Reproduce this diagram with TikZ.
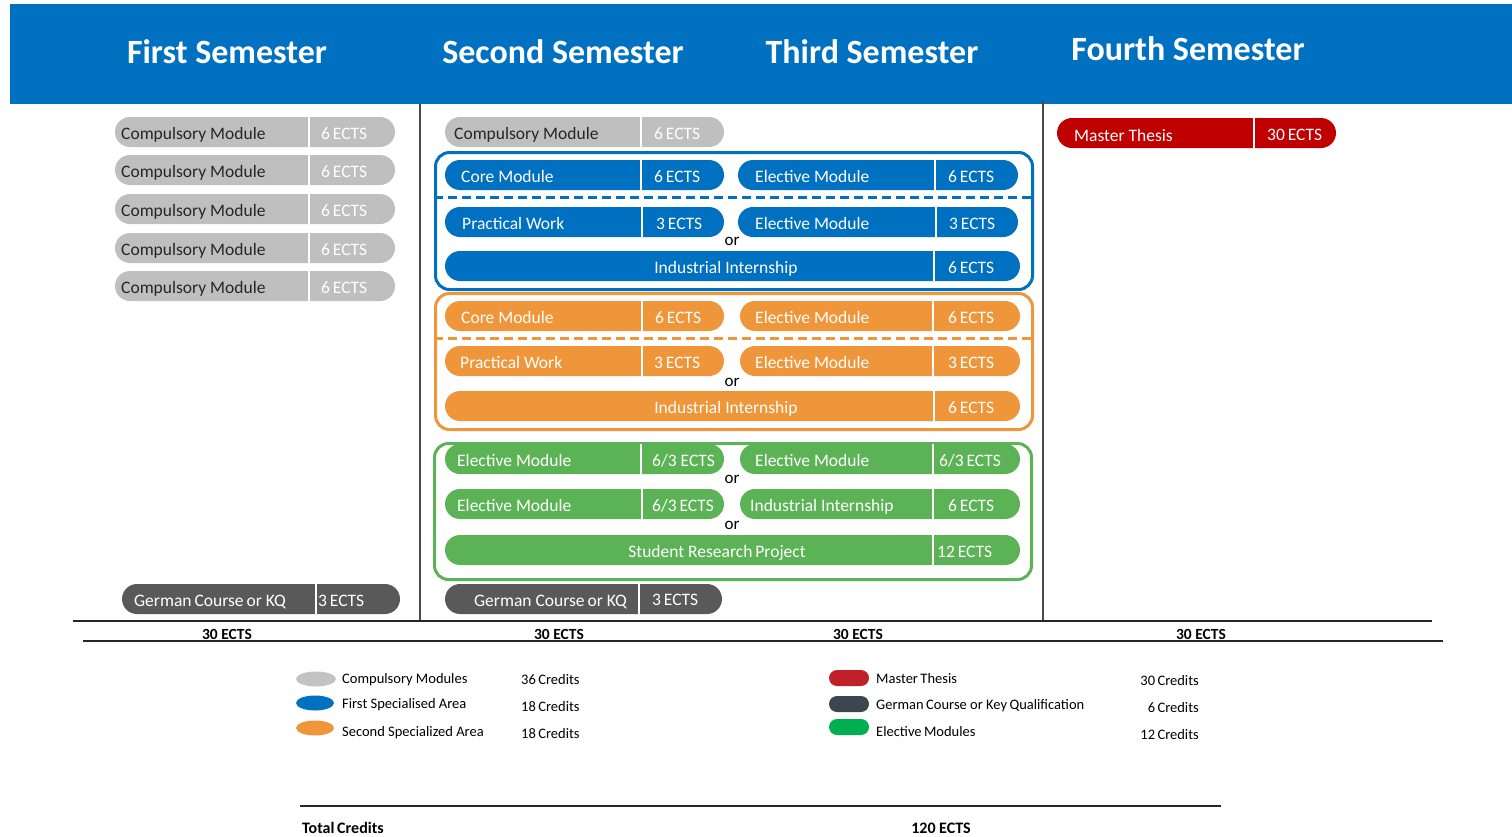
\documentclass[tikz,border=0pt]{standalone}
\usepackage{fontspec}
\setmainfont{Carlito}
\usetikzlibrary{shapes.misc,shapes.geometric}
\definecolor{hdrblue}{HTML}{0070C0}
\definecolor{pblue}{HTML}{0070C0}
\definecolor{porange}{HTML}{F0963A}
\definecolor{pgreen}{HTML}{5CB356}
\definecolor{pgray}{HTML}{BFBFBF}
\definecolor{pdark}{HTML}{595959}
\definecolor{pred}{HTML}{C00000}
\definecolor{txtdark}{HTML}{262626}
\definecolor{lred}{HTML}{C0202A}
\definecolor{ldark}{HTML}{3C4650}
\definecolor{lgreen}{HTML}{00B050}
\definecolor{lgray}{HTML}{C3C3C3}
\definecolor{lineg}{HTML}{4A4A4A}
\tikzset{
  pillbox/.style={rounded rectangle,minimum height=30pt,inner sep=0pt,outer sep=0pt},
  divline/.style={white,line width=1.8pt},
  ptxt/.style={font=\fontsize{17.5}{20}\selectfont,text=white,inner sep=0pt,anchor=base west},
  ctxt/.style={ptxt,anchor=base},
  hdr/.style={font=\fontsize{34}{38}\selectfont\bfseries,text=white,inner sep=0pt,anchor=base},
  ortxt/.style={font=\fontsize{17}{19}\selectfont,text=black,inner sep=0pt,anchor=base},
  sepline/.style={lineg,line width=1.3pt},
  hline/.style={black!85,line width=1.2pt},
  ects/.style={font=\fontsize{15.5}{18}\selectfont\bfseries,text=black,inner sep=0pt,anchor=base},
  areabox/.style={line width=3pt,rounded corners=14pt},
  areadash/.style={line width=3pt,dash pattern=on 9pt off 5pt},
  legt/.style={font=\fontsize{14.5}{17}\selectfont,text=black,inner sep=0pt,anchor=base west},
  legc/.style={legt},
  legcr/.style={legt,anchor=base east},
  tot/.style={font=\fontsize{16}{19}\selectfont\bfseries,text=black,inner sep=0pt},
}
\newcommand\modpill[6]{%
  \node[pillbox,#6,minimum width={#3-#2}] (#1) at ({(#2+#3)/2},#4) {};
  \draw[divline] (#5,{#4-15}) -- (#5,{#4+15});}
\begin{document}
\begin{tikzpicture}[x=1pt,y=-1pt]
\useasboundingbox (0,0) rectangle (1512,836);
% header
\node[fill=hdrblue,minimum width=1502pt,minimum height=100pt,anchor=north west,inner sep=0pt] (header) at (10,4) {};
\node[hdr] (h1) at (227,63) {First Semester};
\node[hdr] (h2) at (563,63) {Second Semester};
\node[hdr] (h3) at (872,63) {Third Semester};
\node[hdr] (h4) at (1188,60) {Fourth Semester};
% separators
\coordinate (v1t) at (420,104); \coordinate (v1b) at (420,621);
\coordinate (v2t) at (1043,100); \coordinate (v2b) at (1043,621);
\draw[sepline] (v1t) -- (v1b);
\draw[sepline] (v2t) -- (v2b);
\coordinate (l1a) at (73,621); \coordinate (l1b) at (1432,621);
\coordinate (l2a) at (83,641); \coordinate (l2b) at (1443,641);
\draw[hline] (l1a) -- (l1b);
\draw[hline] (l2a) -- (l2b);
\node[ects] (e1) at (227,639) {30 ECTS};
\node[ects] (e2) at (559,639) {30 ECTS};
\node[ects] (e3) at (858,639) {30 ECTS};
\node[ects] (e4) at (1201,639) {30 ECTS};
% first semester compulsory
\foreach \i/\y in {1/132,2/170,3/209,4/248,5/286}{
  \modpill{c\i}{115}{395}{\y}{309}{fill=pgray}
  \node[ptxt,text=txtdark] (c\i-l) at (121,\y+7) {Compulsory Module};
  \node[ptxt] (c\i-e) at (321,\y+7) {6\,ECTS};
}
% second semester compulsory
\modpill{s2c}{445}{724}{132}{641}{fill=pgray}
\node[ptxt,text=txtdark] (s2c-l) at (454,139) {Compulsory Module};
\node[ptxt] (s2c-e) at (654,139) {6\,ECTS};
% blue area
\node[areabox,draw=pblue,minimum width=597pt,minimum height=137pt,inner sep=0pt,anchor=north west] (bluebox) at (434,151) {};
\draw[areadash,pblue] (bluebox.west |- 0,197) -- (bluebox.east |- 0,197);
\modpill{b1a}{445}{724}{175}{641}{fill=pblue}
\node[ptxt] (b1a-l) at (461,182) {Core Module};
\node[ptxt] (b1a-e) at (654,182) {6\,ECTS};
\modpill{b1b}{738}{1018}{175}{935}{fill=pblue}
\node[ptxt] (b1b-l) at (755,182) {Elective Module};
\node[ptxt] (b1b-e) at (948,182) {6\,ECTS};
\modpill{b2a}{445}{724}{222}{642}{fill=pblue}
\node[ptxt] (b2a-l) at (462,229) {Practical Work};
\node[ptxt] (b2a-e) at (656,229) {3\,ECTS};
\modpill{b2b}{738}{1018}{222}{936}{fill=pblue}
\node[ptxt] (b2b-l) at (755,229) {Elective Module};
\node[ptxt] (b2b-e) at (949,229) {3\,ECTS};
\node[ortxt] (bor) at (732,245) {or};
\modpill{b3}{445}{1020}{266}{934}{fill=pblue}
\node[ctxt] (b3-l) at (726,273) {Industrial Internship};
\node[ptxt] (b3-e) at (948,273) {6\,ECTS};
% orange area
\node[areabox,draw=porange,minimum width=597pt,minimum height=136pt,inner sep=0pt,anchor=north west] (orangebox) at (434,292) {};
\draw[areadash,porange] (orangebox.west |- 0,338) -- (orangebox.east |- 0,338);
\modpill{o1a}{445}{724}{316}{642}{fill=porange}
\node[ptxt] (o1a-l) at (461,323) {Core Module};
\node[ptxt] (o1a-e) at (655,323) {6\,ECTS};
\modpill{o1b}{740}{1020}{316}{933}{fill=porange}
\node[ptxt] (o1b-l) at (755,323) {Elective Module};
\node[ptxt] (o1b-e) at (948,323) {6\,ECTS};
\modpill{o2a}{445}{724}{361}{642}{fill=porange}
\node[ptxt] (o2a-l) at (460,368) {Practical Work};
\node[ptxt] (o2a-e) at (654,368) {3\,ECTS};
\modpill{o2b}{740}{1020}{361}{933}{fill=porange}
\node[ptxt] (o2b-l) at (755,368) {Elective Module};
\node[ptxt] (o2b-e) at (948,368) {3\,ECTS};
\node[ortxt] (oor) at (732,386) {or};
\modpill{o3}{445}{1020}{406}{934}{fill=porange}
\node[ctxt] (o3-l) at (726,413) {Industrial Internship};
\node[ptxt] (o3-e) at (948,413) {6\,ECTS};
% green area
\node[areabox,draw=pgreen,minimum width=597pt,minimum height=136pt,inner sep=0pt,anchor=north west] (greenbox) at (433,442) {};
\modpill{g1a}{445}{724}{459}{641}{fill=pgreen}
\node[ptxt] (g1a-l) at (457,466) {Elective Module};
\node[ptxt] (g1a-e) at (652,466) {6/3 ECTS};
\modpill{g1b}{740}{1020}{459}{933}{fill=pgreen}
\node[ptxt] (g1b-l) at (755,466) {Elective Module};
\node[ptxt] (g1b-e) at (939,466) {6/3\,ECTS};
\node[ortxt] (gor1) at (732,483) {or};
\modpill{g2a}{445}{724}{504}{642}{fill=pgreen}
\node[ptxt] (g2a-l) at (457,511) {Elective Module};
\node[ptxt] (g2a-e) at (652,511) {6/3\,ECTS};
\modpill{g2b}{740}{1020}{504}{933}{fill=pgreen}
\node[ptxt] (g2b-l) at (750,511) {Industrial Internship};
\node[ptxt] (g2b-e) at (948,511) {6\,ECTS};
\node[ortxt] (gor2) at (732,529) {or};
\modpill{g3}{445}{1020}{550}{933}{fill=pgreen}
\node[ctxt] (g3-l) at (717,557) {Student Research\,Project};
\node[ptxt] (g3-e) at (937,557) {12\,ECTS};
% german course
\modpill{d1}{122}{400}{599}{316}{fill=pdark}
\node[ptxt] (d1-l) at (134,606) {German\,Course\,or KQ};
\node[ptxt] (d1-e) at (318,606) {3\,ECTS};
\modpill{d2}{445}{722}{599}{639}{fill=pdark}
\node[ptxt] (d2-l) at (474,606) {German Course\,or KQ};
\node[ptxt] (d2-e) at (652,605) {3\,ECTS};
% master thesis
\modpill{mt}{1057}{1336}{133}{1254}{fill=pred}
\node[ptxt] (mt-l) at (1074,141) {Master Thesis};
\node[ptxt] (mt-e) at (1267,140) {30\,ECTS};
% legend
\node[ellipse,fill=lgray,minimum width=40pt,minimum height=15pt,inner sep=0pt] (k1) at (316,679) {};
\node[ellipse,fill=pblue,minimum width=38pt,minimum height=15pt,inner sep=0pt] (k2) at (315,703) {};
\node[ellipse,fill=porange,minimum width=38pt,minimum height=15pt,inner sep=0pt] (k3) at (315,728) {};
\node[legt] (k1-t) at (342,683) {Compulsory Modules};
\node[legt] (k2-t) at (342,708) {First Specialised Area};
\node[legt] (k3-t) at (342,736) {Second Specialized Area};
\node[legc] (k1-c) at (521,684) {36\,Credits};
\node[legc] (k2-c) at (521,711) {18\,Credits};
\node[legc] (k3-c) at (521,738) {18\,Credits};
\node[rounded rectangle,fill=lred,minimum width=40pt,minimum height=16pt,inner sep=0pt] (k4) at (849,678) {};
\node[rounded rectangle,fill=ldark,minimum width=40pt,minimum height=16pt,inner sep=0pt] (k5) at (849,704) {};
\node[rounded rectangle,fill=lgreen,minimum width=40pt,minimum height=16pt,inner sep=0pt] (k6) at (849,727) {};
\node[legt] (k4-t) at (876,683) {Master\,Thesis};
\node[legt] (k5-t) at (876,709) {German\,Course or Key\,Qualification};
\node[legt] (k6-t) at (876,736) {Elective\,Modules};
\node[legcr] (k4-c) at (1199,685) {30\,Credits};
\node[legcr] (k5-c) at (1199,712) {6\,Credits};
\node[legcr] (k6-c) at (1199,739) {12\,Credits};
% total
\coordinate (ta) at (300,806); \coordinate (tb) at (1221,806);
\draw[hline] (ta) -- (tb);
\node[tot,anchor=base west] (tc) at (302,833) {Total\,Credits};
\node[tot,anchor=base] (tv) at (941,833) {120 ECTS};
\end{tikzpicture}
\end{document}
